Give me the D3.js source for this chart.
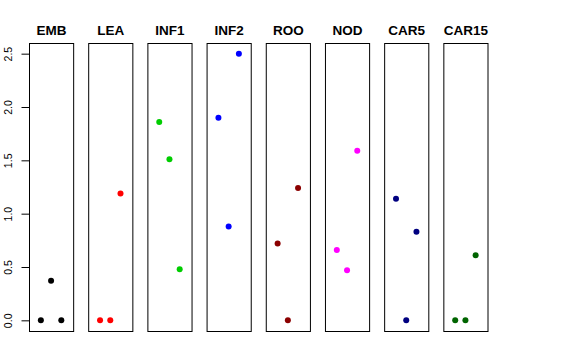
<!DOCTYPE html>
<html>
<head>
<meta charset="utf-8">
<script src="https://cdn.jsdelivr.net/npm/d3@7"></script>
<style>
  html, body { margin: 0; padding: 0; background: #fff; }
  svg { display: block; font-family: "Liberation Sans", Arial, Helvetica, sans-serif; }
</style>
</head>
<body>
<svg id="chart" width="576" height="360"></svg>
<script>
// ---- data ----
const categories = ["EMB", "LEA", "INF1", "INF2", "ROO", "NOD", "CAR5", "CAR15"];
const colors = ["#000000", "#FF0000", "#00CD00", "#0000FF", "#8B0000", "#FF00FF", "#000080", "#006400"];
const positions = [1, 2, 3];
const EMB   = [0.00, 0.37, 0.00];
const LEA   = [0.00, 0.00, 1.19];
const INF1  = [1.86, 1.51, 0.48];
const INF2  = [1.90, 0.88, 2.50];
const ROO   = [0.72, 0.00, 1.24];
const NOD   = [0.66, 0.47, 1.59];
const CAR5  = [1.14, 0.00, 0.83];
const CAR15 = [0.00, 0.00, 0.61];
const seriesValues = [EMB, LEA, INF1, INF2, ROO, NOD, CAR5, CAR15];
const yTicks = [0, 0.5, 1.0, 1.5, 2.0, 2.5];

// ---- layout ----
const svg = d3.select("#chart");
const plotTop = 43, plotBottom = 331;

const panel = d3.scaleBand().domain(categories).range([29, 487.5]).paddingInner(0.254).paddingOuter(0);
const y = d3.scaleLinear().domain([-0.1, 2.6]).range([plotBottom, plotTop]);
const x = d3.scaleLinear().domain([-0.16, 4.16]).range([0, panel.bandwidth()]);

// y axis
const yAxis = svg.append("g")
  .attr("transform", `translate(${Math.round(panel(categories[0])) + 0.5},0)`)
  .call(d3.axisLeft(y).tickValues(yTicks).tickFormat(d3.format(".1f")).tickSize(8).tickSizeOuter(0));
yAxis.select(".domain").remove();
yAxis.selectAll(".tick line").attr("stroke", "#000");
yAxis.selectAll(".tick text")
  .attr("x", null).attr("y", null).attr("dy", null)
  .attr("text-anchor", "middle")
  .attr("transform", "translate(-17.5,0) rotate(-90)")
  .attr("font-size", 10.5)
  .attr("fill", "#000")
  .attr("font-family", "Liberation Sans, Arial, Helvetica, sans-serif");

// panels
categories.forEach((cat, i) => {
  const x0 = panel(cat);
  const g = svg.append("g").attr("transform", `translate(${x0},0)`);
  g.append("rect")
    .attr("x", 0.5).attr("y", plotTop + 0.5)
    .attr("width", panel.bandwidth()).attr("height", plotBottom - plotTop)
    .attr("fill", "none").attr("stroke", "#000").attr("stroke-width", 1);
  g.append("text")
    .attr("x", panel.bandwidth() / 2 + 0.5).attr("y", 34.5)
    .attr("text-anchor", "middle")
    .attr("font-weight", "bold").attr("font-size", 13.5)
    .text(cat);
  g.selectAll("circle")
    .data(seriesValues[i])
    .enter().append("circle")
    .attr("cx", (d, j) => x(positions[j]))
    .attr("cy", d => y(d))
    .attr("r", 3)
    .attr("fill", colors[i]);
});
</script>
</body>
</html>
